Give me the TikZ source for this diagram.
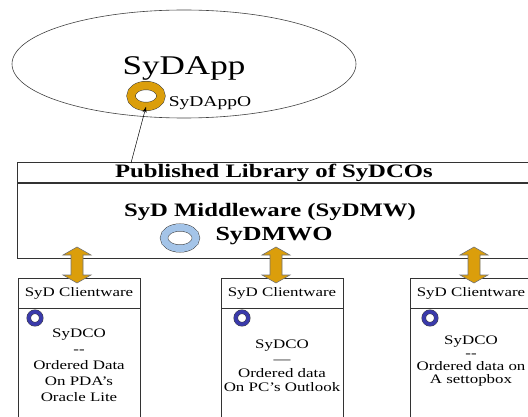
\documentclass[tikz,border=0pt]{standalone}
\usepackage{fontspec}
\setmainfont{Liberation Serif}[FakeStretch=1.3]
\usetikzlibrary{arrows.meta,positioning,shapes.geometric}

\definecolor{ringorange}{RGB}{219,158,11}
\definecolor{ringlight}{RGB}{164,196,232}
\definecolor{ringdark}{RGB}{58,58,170}

\begin{document}
\begin{tikzpicture}[x=1pt,y=-1pt,
      box/.style={
         draw=black!80,
         line width=0.8pt,
         inner sep=0pt},
      ring/.style={
         ellipse,
         draw=black!75,
         line width=0.5pt,
         double=#1,
         inner sep=0pt},
      dblarrow/.style={
         draw=black!55,
         line width=0.6pt,
         fill=ringorange,
         line join=miter},
      small/.style={font=\fontsize{13}{15}\selectfont},
      big/.style={font=\bfseries\fontsize{19}{21}\selectfont}
      ]
      \useasboundingbox (0,0) rectangle (528,417);

      % application
      \node[draw=black!75, line width=0.6pt, ellipse, inner sep=0pt,
            minimum width=344pt, minimum height=108pt] (app) at (184,64) {};
      \node[font=\fontsize{27}{30}\selectfont] (applbl) at (184,68) {SyDApp};
      \node[ring=ringorange, double distance=8pt,
            minimum width=30pt, minimum height=21pt] (appo) at (146,96) {};
      \node[font=\fontsize{15}{17}\selectfont, right=4pt of appo, yshift=-7pt] (appolbl) {SyDAppO};

      % middleware
      \node[box, big, minimum width=513pt, minimum height=20pt, anchor=north west] (pub) at (17,162)
         {Published Library of SyDCOs};
      \node[box, minimum width=513pt, minimum height=75pt, below=0pt of pub] (mw) {};
      \node[big] (mwlbl) at (270,212) {SyD Middleware (SyDMW)};
      \node[ring=ringlight, double distance=7pt,
            minimum width=32pt, minimum height=21pt] (mwo) at (180,238) {};
      \node[big, font=\bfseries\fontsize{20}{22}\selectfont] (mwolbl) at (274,236) {SyDMWO};

      \coordinate (tap) at (131,163);
      \draw[-{Stealth[length=6pt,width=4pt]}, line width=0.5pt] (tap) -- (appo.south);

      % clientware
      \foreach \n/\cx/\rx/\ax in {1/79/35/77, 2/282/242/276, 3/471/430/474} {
         \node[box, small, minimum width=122pt, minimum height=30pt] (cw\n) at (\cx,293) {SyD Clientware};
         \node[box, minimum width=122pt, minimum height=125pt, below=0pt of cw\n] (cwb\n) {};
         \node[ring=ringdark, double distance=3.5pt, line width=0.5pt,
               minimum size=12.5pt] (co\n) at (\rx,318) {};
         % link between middleware and clientware
         \coordinate (link\n) at (\ax,247);
         \draw[dblarrow] (link\n) -- ++(14,8) -- ++(-8,0) -- ++(0,20) -- ++(8,0)
            -- ++(-14,8) -- ++(-14,-8) -- ++(8,0) -- ++(0,-20) -- ++(-8,0) -- cycle;
      }

      \node[small, align=center, font=\fontsize{13}{16}\selectfont] (cot1) at (79,365)
         {SyDCO\\-{}-\\Ordered Data\\On PDA’s\\Oracle Lite};
      \node[small, align=center, font=\fontsize{13}{14.3}\selectfont] (cot2) at (282,366)
         {SyDCO\\—\\Ordered data\\On PC’s Outlook};
      \node[small, align=center, font=\fontsize{13}{12.8}\selectfont] (cot3) at (471,361)
         {SyDCO\\-{}-\\Ordered data on\\A settopbox};
\end{tikzpicture}
\end{document}
